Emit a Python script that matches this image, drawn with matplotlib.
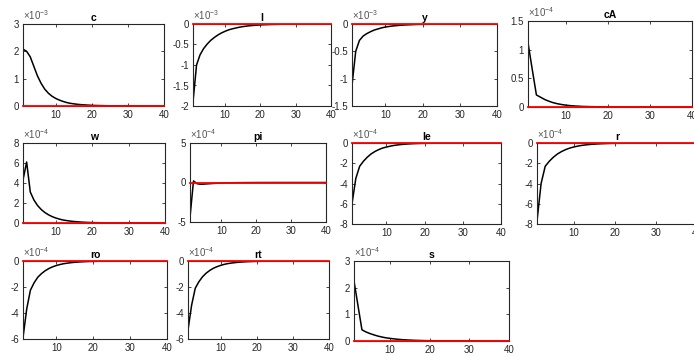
import matplotlib
matplotlib.use("Agg")
import matplotlib.pyplot as plt
from matplotlib.ticker import FormatStrFormatter, FixedLocator

plt.rcParams['font.family'] = ['Liberation Sans', 'DejaVu Sans']
plt.rcParams['axes.unicode_minus'] = False
plt.rcParams['mathtext.fontset'] = 'custom'
plt.rcParams['mathtext.rm'] = 'Liberation Sans'

# horizon
periods = list(range(1, 41))

# impulse responses (in units of the exponent shown above each panel)
c_irf = [2.08, 2.00, 1.80, 1.45, 1.10, 0.83, 0.62, 0.47, 0.36, 0.28,
         0.22, 0.17, 0.13, 0.10, 0.08, 0.063, 0.05, 0.04, 0.032, 0.025,
         0.02, 0.016, 0.013, 0.01, 0.008, 0.006, 0.005, 0.004, 0.003, 0.0025,
         0.002, 0.0015, 0.0012, 0.001, 0.0008, 0.0006, 0.0005, 0.0004, 0.0003, 0.0002]
l_irf = [-1.90, -1.00, -0.75, -0.60, -0.49, -0.40, -0.33, -0.27, -0.22, -0.18,
         -0.145, -0.12, -0.10, -0.08, -0.065, -0.053, -0.043, -0.035, -0.028, -0.023,
         -0.018, -0.015, -0.012, -0.01, -0.008, -0.006, -0.005, -0.004, -0.003, -0.0025,
         -0.002, -0.0015, -0.0012, -0.001, -0.0008, -0.0006, -0.0005, -0.0004, -0.0003, -0.0002]
y_irf = [-1.12, -0.50, -0.30, -0.22, -0.175, -0.14, -0.11, -0.09, -0.07, -0.055,
         -0.045, -0.036, -0.029, -0.023, -0.018, -0.015, -0.012, -0.009, -0.007, -0.006,
         -0.005, -0.004, -0.003, -0.0025, -0.002, -0.0015, -0.0012, -0.001, -0.0008, -0.0006,
         -0.0005, -0.0004, -0.0003, -0.0003, -0.0002, -0.0002, -0.0001, -0.0001, -0.0001, -0.0001]
cA_irf = [1.12, 0.66, 0.21, 0.17, 0.13, 0.10, 0.075, 0.057, 0.043, 0.032,
          0.024, 0.018, 0.014, 0.010, 0.008, 0.006, 0.0045, 0.0035, 0.0026, 0.002,
          0.0015, 0.0012, 0.0009, 0.0007, 0.0005, 0.0004, 0.0003, 0.0002, 0.0002, 0.0001,
          0.0001, 0.0001, 0.0001, 0.0, 0.0, 0.0, 0.0, 0.0, 0.0, 0.0]
w_irf = [4.3, 6.1, 3.1, 2.3, 1.75, 1.35, 1.05, 0.82, 0.64, 0.50,
         0.39, 0.30, 0.24, 0.19, 0.15, 0.12, 0.09, 0.07, 0.055, 0.045,
         0.035, 0.027, 0.021, 0.017, 0.013, 0.01, 0.008, 0.006, 0.005, 0.004,
         0.003, 0.0024, 0.0019, 0.0015, 0.0012, 0.0009, 0.0007, 0.0005, 0.0004, 0.0003]
pi_irf = [-4.4, 0.2, -0.15, -0.22, -0.20, -0.17, -0.14, -0.11, -0.09, -0.07,
          -0.055, -0.043, -0.034, -0.027, -0.021, -0.016, -0.013, -0.01, -0.008, -0.006,
          -0.005, -0.004, -0.003, -0.0024, -0.0019, -0.0015, -0.0012, -0.0009, -0.0007, -0.0005,
          -0.0004, -0.0003, -0.0003, -0.0002, -0.0002, -0.0001, -0.0001, -0.0001, -0.0001, 0.0]
le_irf = [-6.0, -3.5, -2.3, -1.8, -1.4, -1.08, -0.84, -0.65, -0.50, -0.40,
          -0.31, -0.24, -0.185, -0.145, -0.11, -0.087, -0.067, -0.052, -0.04, -0.031,
          -0.024, -0.019, -0.015, -0.011, -0.009, -0.007, -0.0054, -0.0042, -0.0032, -0.0025,
          -0.002, -0.0015, -0.0012, -0.0009, -0.0007, -0.0005, -0.0004, -0.0003, -0.0003, -0.0002]
r_irf = [-7.7, -4.0, -2.3, -1.8, -1.4, -1.08, -0.84, -0.65, -0.50, -0.39,
         -0.30, -0.23, -0.18, -0.14, -0.11, -0.085, -0.066, -0.051, -0.04, -0.031,
         -0.024, -0.019, -0.015, -0.011, -0.009, -0.007, -0.0054, -0.0042, -0.0032, -0.0025,
         -0.002, -0.0015, -0.0012, -0.0009, -0.0007, -0.0005, -0.0004, -0.0003, -0.0003, -0.0002]
ro_irf = [-5.9, -3.7, -2.25, -1.68, -1.25, -0.97, -0.75, -0.58, -0.45, -0.35,
          -0.27, -0.21, -0.165, -0.128, -0.10, -0.077, -0.06, -0.046, -0.036, -0.028,
          -0.022, -0.017, -0.013, -0.01, -0.008, -0.006, -0.0047, -0.0036, -0.0028, -0.0022,
          -0.0017, -0.0013, -0.001, -0.0008, -0.0006, -0.0005, -0.0004, -0.0003, -0.0002, -0.0002]
rt_irf = [-5.3, -3.4, -2.1, -1.6, -1.22, -0.94, -0.73, -0.56, -0.44, -0.34,
          -0.26, -0.20, -0.16, -0.124, -0.096, -0.075, -0.058, -0.045, -0.035, -0.027,
          -0.021, -0.016, -0.013, -0.01, -0.008, -0.006, -0.0046, -0.0036, -0.0028, -0.0022,
          -0.0017, -0.0013, -0.001, -0.0008, -0.0006, -0.0005, -0.0004, -0.0003, -0.0002, -0.0002]
s_irf = [2.25, 1.33, 0.42, 0.34, 0.28, 0.23, 0.185, 0.15, 0.12, 0.10,
         0.08, 0.065, 0.052, 0.042, 0.034, 0.027, 0.022, 0.018, 0.014, 0.011,
         0.009, 0.007, 0.0057, 0.0045, 0.0036, 0.0029, 0.0023, 0.0018, 0.0015, 0.0012,
         0.0009, 0.0007, 0.0006, 0.0005, 0.0004, 0.0003, 0.0002, 0.0002, 0.0001, 0.0001]

titles = ['c', 'l', 'y', 'cA', 'w', 'pi', 'le', 'r', 'ro', 'rt', 's']
series = [c_irf, l_irf, y_irf, cA_irf, w_irf, pi_irf, le_irf, r_irf, ro_irf, rt_irf, s_irf]
exponents = [-3, -3, -3, -4, -4, -4, -4, -4, -4, -4, -4]
y_limits = [(0, 3), (-2, 0), (-1.5, 0), (0, 1.5), (0, 8), (-5, 5),
            (-8, 0), (-8, 0), (-6, 0), (-6, 0), (0, 3)]
y_ticks = [[0, 1, 2, 3], [-2, -1.5, -1, -0.5, 0], [-1.5, -1, -0.5, 0], [0, 0.5, 1, 1.5],
           [0, 2, 4, 6, 8], [-5, 0, 5], [-8, -6, -4, -2, 0], [-8, -6, -4, -2, 0],
           [-6, -4, -2, 0], [-6, -4, -2, 0], [0, 1, 2, 3]]
x_ticks = [10, 20, 30, 40]

# axes boxes in pixels: left, top, right, bottom
boxes = [(23, 24, 164, 106), (193, 24, 331, 106), (352, 24, 497, 106), (528, 21, 692, 107),
         (23, 143, 165, 223), (190, 143, 326, 222), (352, 143, 501, 224), (537, 143, 697, 224),
         (23, 261, 167, 339), (188, 261, 329, 339), (354, 261, 509, 341)]

W, H = 694, 356
fig = plt.figure(figsize=(W / 100, H / 100), dpi=100)
ink = '#262626'

for name, vals, ex, ylim, yt, (l, t, r, b) in zip(titles, series, exponents,
                                                   y_limits, y_ticks, boxes):
    ax = fig.add_axes([l / W, 1 - b / H, (r - l) / W, (b - t) / H])
    ax.plot(periods, vals, '-k', lw=1.1)
    # zero line drawn over the spines like in the MATLAB output
    ax.axhline(0, color='red', lw=1.3, zorder=3, clip_on=False)
    ax.set_xlim(1, 40)
    ax.set_ylim(*ylim)
    ax.xaxis.set_major_locator(FixedLocator(x_ticks))
    ax.yaxis.set_major_locator(FixedLocator(yt))
    ax.yaxis.set_major_formatter(FormatStrFormatter('%g'))
    ax.tick_params(direction='in', top=True, right=True, length=2.5, width=0.6,
                   labelsize=7, colors=ink, pad=3)
    for sp in ax.spines.values():
        sp.set_linewidth(0.8)
        sp.set_color(ink)
    ax.set_title(name, fontsize=7.5, fontweight='bold', pad=2.5, color='black')
    ax.text(0.0, 1.02, r'$\times 10^{%d}$' % ex, transform=ax.transAxes,
            fontsize=7, color='#555555', ha='left', va='bottom')

fig.savefig('out.png', dpi=100, facecolor='white')
